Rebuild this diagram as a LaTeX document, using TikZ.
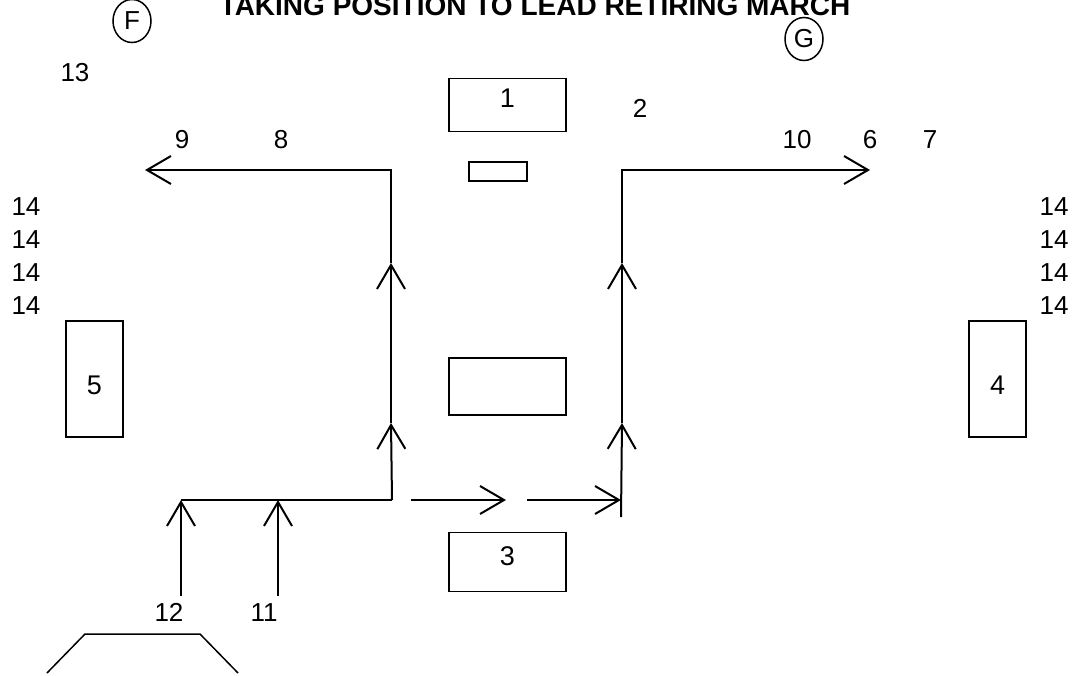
\documentclass[tikz,border=0pt]{standalone}
\usepackage{fontspec}
\setmainfont{Liberation Sans}
\usetikzlibrary{arrows.meta,shapes.geometric}

\begin{document}
\begin{tikzpicture}[x=1pt, y=-1pt,
    march/.style={line width=2pt, -{Straight Barb[length=24pt, width=28pt]}},
    walk/.style={line width=2pt},
    post/.style n args={2}{draw, line width=1.5pt, inner sep=0pt,
                 minimum width=#1, minimum height=#2},
    flag/.style={draw, ellipse, line width=1.5pt, inner sep=0pt,
                 minimum width=38pt, minimum height=43pt,
                 font=\fontsize{26}{28}\selectfont},
    num/.style={inner sep=0pt, font=\fontsize{26}{28}\selectfont},
    tag/.style={inner sep=0pt, font=\fontsize{27}{28}\selectfont}
  ]
  \useasboundingbox (0,0) rectangle (1079,675);

  % title
  \node[anchor=base, inner sep=0pt, font=\bfseries\fontsize{28}{30}\selectfont]
    (title) at (535,15) {TAKING POSITION TO LEAD RETIRING MARCH};

  % flags
  \node[flag] (flagF) at (132,21) {F};
  \node[flag] (flagG) at (804,39) {G};

  % boxes
  \node[post={117pt}{53pt}, label={[tag, yshift=7pt]center:1}] (box1) at (507.5,105) {};
  \node[post={58pt}{19pt}] (dais) at (498,171.5) {};
  \node[post={117pt}{57pt}] (boxmid) at (507.5,386.5) {};
  \node[post={117pt}{59pt}, label={[tag, yshift=6pt]center:3}] (box3) at (507.5,562) {};
  \node[post={57pt}{116pt}, label={[tag, yshift=-6pt]center:5}] (box5) at (94.5,379) {};
  \node[post={57pt}{116pt}, label={[tag, yshift=-6pt]center:4}] (box4) at (997.5,379) {};

  % numbers
  \node[num] (n13) at (75,73) {13};
  \node[num] (n2) at (640,108) {2};
  \node[num] (n9) at (182,140) {9};
  \node[num] (n8) at (281,140) {8};
  \node[num] (n10) at (797,140) {10};
  \node[num] (n6) at (870,140) {6};
  \node[num] (n7) at (930,140) {7};
  \foreach \y [count=\i] in {207,240,273,306} {
    \node[num] (wl\i) at (26,\y) {14};
    \node[num] (wr\i) at (1054,\y) {14};
  }
  \node[num, anchor=base] (n12) at (169,621) {12};
  \node[num, anchor=base] (n11) at (264,621) {11};

  % route points
  \coordinate (lb) at (392,500);
  \coordinate (ll) at (391,423);
  \coordinate (lu) at (391,263);
  \coordinate (lt) at (391,170);
  \coordinate (lend) at (145,170);
  \coordinate (rb) at (621,517);
  \coordinate (rl) at (622,423);
  \coordinate (ru) at (622,263);
  \coordinate (rt) at (622,170);
  \coordinate (rend) at (870,170);
  \coordinate (s12) at (181,596);
  \coordinate (e12) at (181,500);
  \coordinate (s11) at (278,596);
  \coordinate (e11) at (278,500);
  \coordinate (m1s) at (411,500);
  \coordinate (m1e) at (506,500);
  \coordinate (m2s) at (527,500);
  \coordinate (m2e) at (621,500);

  % left column
  \draw[walk] (e12) -- (lb);
  \draw[march] (s12) -- (e12);
  \draw[march] (s11) -- (e11);
  \draw[march] (lb) -- (ll);
  \draw[march] (ll) -- (lu);
  \draw[march] (lu) -- (lt) -- (lend);

  % crossing
  \draw[march] (m1s) -- (m1e);
  \draw[march] (m2s) -- (m2e);

  % right column
  \draw[march] (rb) -- (rl);
  \draw[march] (rl) -- (ru);
  \draw[march] (ru) -- (rt) -- (rend);

  % gate
  \draw[line width=1.5pt] (47,673) -- (85,634) -- (200,634) -- (238,673);
\end{tikzpicture}
\end{document}
